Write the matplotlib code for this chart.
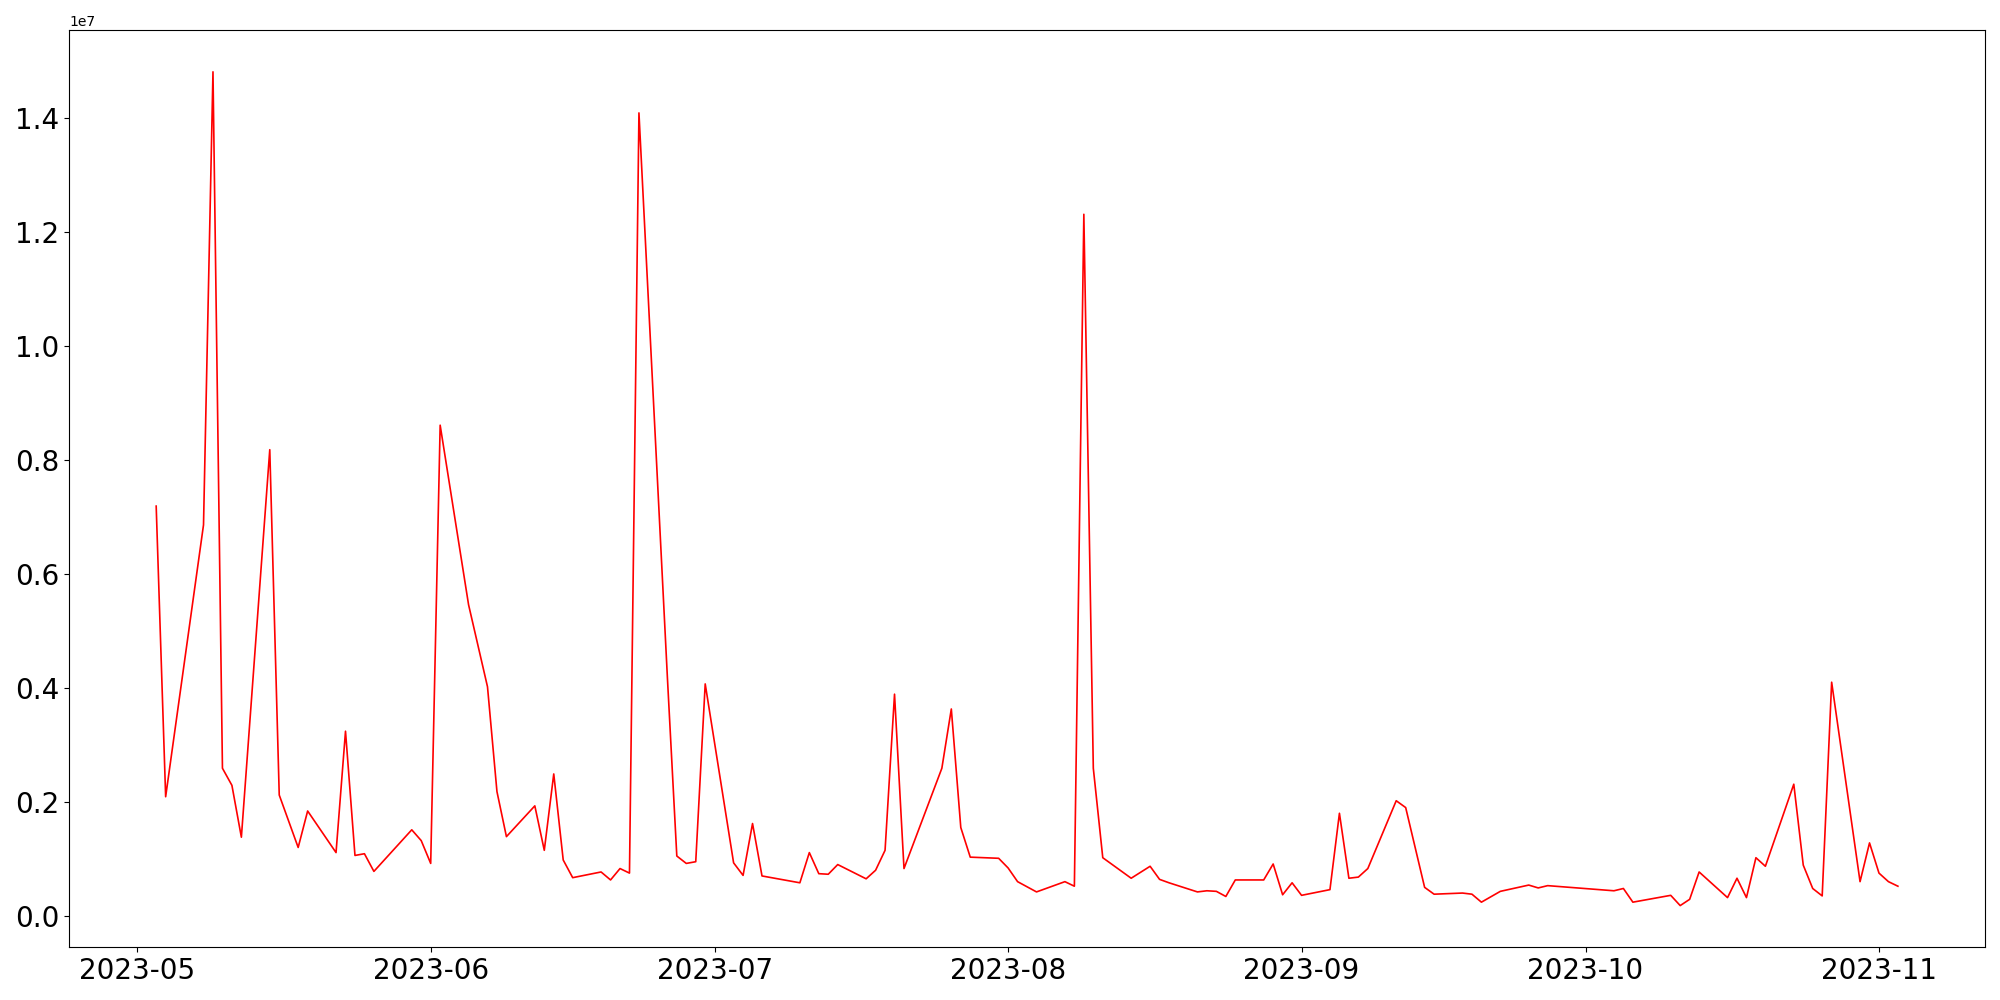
import matplotlib
matplotlib.use("Agg")
import matplotlib.pyplot as plt
import pandas as pd
import numpy as np

# daily values (millions)
dates = [
    "2023-05-03", "2023-05-04", "2023-05-08", "2023-05-09", "2023-05-10", "2023-05-11",
    "2023-05-12", "2023-05-15", "2023-05-16", "2023-05-18", "2023-05-19", "2023-05-22",
    "2023-05-23", "2023-05-24", "2023-05-25", "2023-05-26", "2023-05-30", "2023-05-31",
    "2023-06-01", "2023-06-02", "2023-06-05", "2023-06-07", "2023-06-08", "2023-06-09",
    "2023-06-12", "2023-06-13", "2023-06-14", "2023-06-15", "2023-06-16", "2023-06-19",
    "2023-06-20", "2023-06-21", "2023-06-22", "2023-06-23", "2023-06-26", "2023-06-27",
    "2023-06-28", "2023-06-29", "2023-06-30", "2023-07-03", "2023-07-04", "2023-07-05",
    "2023-07-06", "2023-07-10", "2023-07-11", "2023-07-12", "2023-07-13", "2023-07-14",
    "2023-07-17", "2023-07-18", "2023-07-19", "2023-07-20", "2023-07-21", "2023-07-25",
    "2023-07-26", "2023-07-27", "2023-07-28", "2023-07-31", "2023-08-01", "2023-08-02",
    "2023-08-03", "2023-08-04", "2023-08-07", "2023-08-08", "2023-08-09", "2023-08-10",
    "2023-08-11", "2023-08-14", "2023-08-16", "2023-08-17", "2023-08-18", "2023-08-21",
    "2023-08-22", "2023-08-23", "2023-08-24", "2023-08-25", "2023-08-28", "2023-08-29",
    "2023-08-30", "2023-08-31", "2023-09-01", "2023-09-04", "2023-09-05", "2023-09-06",
    "2023-09-07", "2023-09-08", "2023-09-11", "2023-09-12", "2023-09-14", "2023-09-15",
    "2023-09-18", "2023-09-19", "2023-09-20", "2023-09-22", "2023-09-25", "2023-09-26",
    "2023-09-27", "2023-10-04", "2023-10-05", "2023-10-06", "2023-10-10", "2023-10-11",
    "2023-10-12", "2023-10-13", "2023-10-16", "2023-10-17", "2023-10-18", "2023-10-19",
    "2023-10-20", "2023-10-23", "2023-10-24", "2023-10-25", "2023-10-26", "2023-10-27",
    "2023-10-30", "2023-10-31", "2023-11-01", "2023-11-02", "2023-11-03",
]
values_m = [
    7.19, 2.09, 6.86, 14.81, 2.59, 2.29,
    1.38, 8.18, 2.12, 1.20, 1.84, 1.11,
    3.24, 1.06, 1.09, 0.78, 1.51, 1.32,
    0.92, 8.61, 5.46, 4.02, 2.18, 1.39,
    1.93, 1.15, 2.49, 0.98, 0.67, 0.77,
    0.63, 0.83, 0.75, 14.09, 4.20, 1.05,
    0.92, 0.95, 4.07, 0.93, 0.71, 1.62,
    0.70, 0.58, 1.11, 0.74, 0.73, 0.90,
    0.65, 0.80, 1.15, 3.89, 0.83, 2.59,
    3.63, 1.55, 1.03, 1.01, 0.84, 0.60,
    0.51, 0.42, 0.60, 0.52, 12.31, 2.59,
    1.02, 0.66, 0.87, 0.64, 0.58, 0.42,
    0.44, 0.43, 0.34, 0.63, 0.63, 0.91,
    0.37, 0.58, 0.36, 0.46, 1.80, 0.66,
    0.68, 0.83, 2.02, 1.90, 0.50, 0.38,
    0.40, 0.38, 0.24, 0.43, 0.54, 0.49,
    0.53, 0.44, 0.48, 0.24, 0.36, 0.18,
    0.29, 0.77, 0.32, 0.66, 0.32, 1.02,
    0.87, 2.31, 0.89, 0.48, 0.35, 4.10,
    0.60, 1.28, 0.75, 0.60, 0.52,
]

x = pd.to_datetime(dates)
y = np.array(values_m) * 1e6

plt.figure(figsize=(20, 10), dpi=100)
plt.plot(x, y, color='r', linewidth=1.2)
plt.xticks(fontsize=20)
plt.yticks(fontsize=20)
plt.tight_layout()
plt.savefig("out.png")
